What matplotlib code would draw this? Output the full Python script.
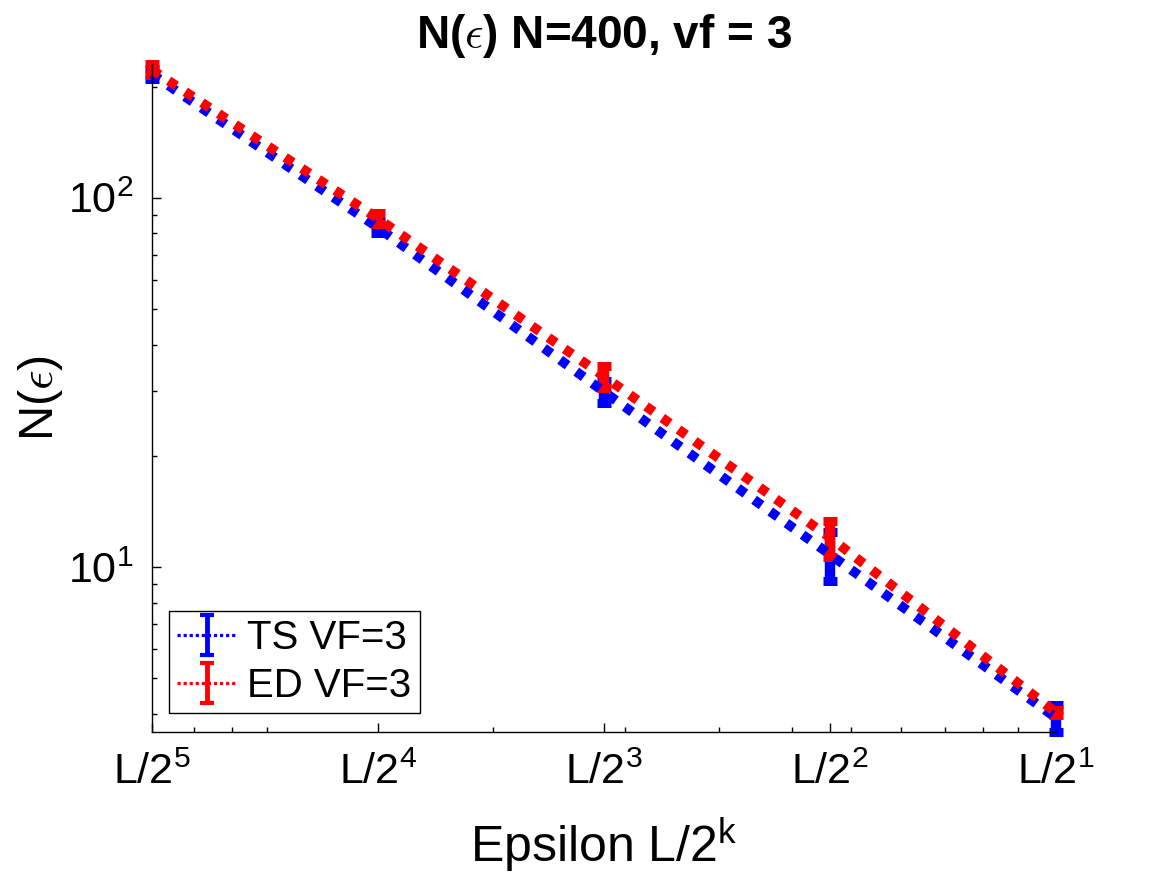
import numpy as np
import matplotlib
matplotlib.use("Agg")
import matplotlib.pyplot as plt
from matplotlib.ticker import FixedLocator, FixedFormatter, LogLocator, NullFormatter

plt.rcParams['font.family'] = ['Liberation Sans', 'DejaVu Sans']
plt.rcParams['mathtext.fontset'] = 'cm'
plt.rcParams['mathtext.default'] = 'regular'

# box size L, epsilon = L/2^k
L = 22.5
k = np.array([5, 4, 3, 2, 1])
eps = L / 2.0 ** k
xlabels = [r"L/2$^{%d}$" % i for i in k]

ts_n = np.array([216, 83.0, 29.8, 10.8, 3.90])
ts_err = np.array([6.8, 3.0, 2.1, 1.66, 0.32])
ed_n = np.array([222, 87.8, 32.8, 12.0, 4.03])
ed_err = np.array([7.5, 3.0, 2.2, 1.34, 0.07])

fig = plt.figure(figsize=(11.67, 8.75), dpi=100)
ax = fig.add_axes([0.1302, 0.164, 0.7747, 0.7623])
ax.set_xscale('log')
ax.set_yscale('log')

dots = (0, (0.95, 1.1))
for n, err, col in [(ts_n, ts_err, 'blue'), (ed_n, ed_err, 'red')]:
    eb = ax.errorbar(eps, n, yerr=err, color=col, ls=dots, lw=7,
                     elinewidth=7.5, capsize=5, capthick=6.5)
    for a in eb.get_children():
        a.set_clip_on(False)

# thinner copies just for the legend (NaN point so the caps exist)
h_ts = ax.errorbar([np.nan], [np.nan], yerr=[1.0], color='blue', ls=(0, (1, 0.9)),
                   lw=2.3, elinewidth=3.5, capsize=5, capthick=3)
h_ed = ax.errorbar([np.nan], [np.nan], yerr=[1.0], color='red', ls=(0, (1, 0.9)),
                   lw=2.3, elinewidth=3.5, capsize=5, capthick=3)

ax.set_xlim(eps.min(), eps.max())
ax.set_ylim((ts_n - ts_err).min(), (ed_n + ed_err).max())

ax.xaxis.set_major_locator(FixedLocator(eps))
ax.xaxis.set_major_formatter(FixedFormatter(xlabels))
ax.xaxis.set_minor_locator(LogLocator(base=10, subs=np.arange(1, 10), numticks=50))
ax.xaxis.set_minor_formatter(NullFormatter())
ax.yaxis.set_minor_formatter(NullFormatter())

ax.tick_params(which='both', direction='in', width=1, labelsize=31)
ax.tick_params(which='major', length=6.7)
ax.tick_params(which='minor', length=3.3)
ax.tick_params(axis='x', pad=15)
ax.tick_params(axis='y', pad=13.5)

ax.spines['top'].set_visible(False)
ax.spines['right'].set_visible(False)
ax.spines['left'].set_linewidth(1)
ax.spines['bottom'].set_linewidth(1)

ax.set_xlabel(r"Epsilon L/2$^{k}$", fontsize=36, labelpad=16)
ax.set_ylabel(r"N($\mathit{\epsilon}$)", fontsize=35, labelpad=2)
ax.set_title(r"N($\mathit{\epsilon}$) N=400, vf = 3", fontsize=33,
             fontweight='bold', pad=12)

leg = ax.legend([h_ts, h_ed], ['TS VF=3', 'ED VF=3'], loc='lower left',
                bbox_to_anchor=(0.0188, 0.0277), borderaxespad=0,
                fontsize=29, fancybox=False, edgecolor='black', framealpha=1,
                handlelength=1.5, handletextpad=0.25, borderpad=0.2,
                labelspacing=0.25)
leg.get_frame().set_linewidth(1)

fig.savefig('out.png', dpi=100)
